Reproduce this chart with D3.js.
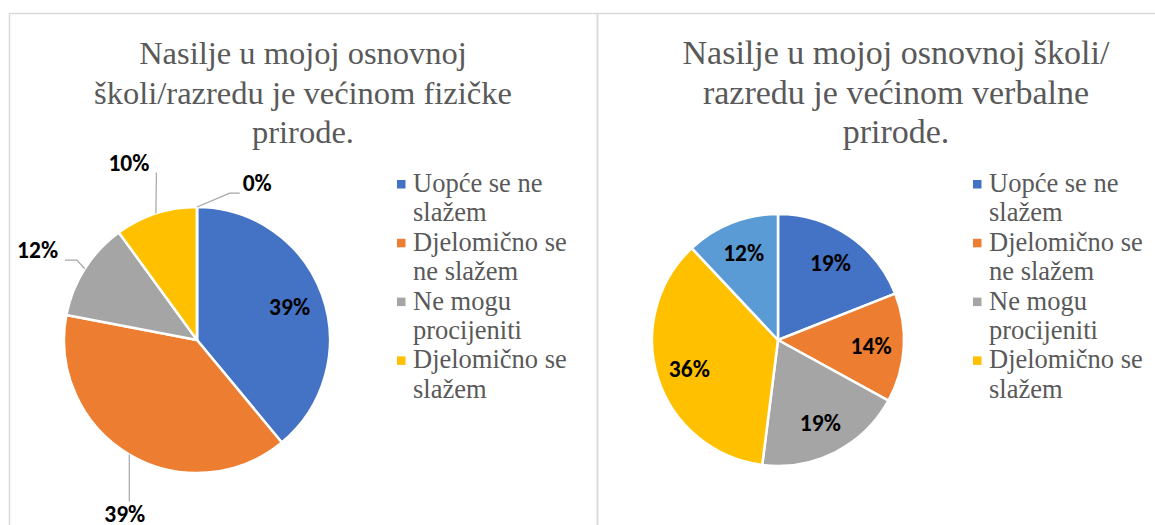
<!DOCTYPE html>
<html>
<head>
<meta charset="utf-8">
<script src="https://cdn.jsdelivr.net/npm/d3@7"></script>
<style>
    html, body { margin: 0; padding: 0; background: #fff; }
    svg { display: block; }
</style>
</head>
<body>
<div id="chart"></div>
<script>
const categories = ['Uopće se ne slažem', 'Djelomično se ne slažem', 'Ne mogu procijeniti', 'Djelomično se slažem', 'Potpuno se slažem'];
const physicalValues = [39, 39, 12, 10, 0];
const verbalValues = [19, 14, 19, 36, 12];
const physicalTitle = ['Nasilje u mojoj osnovnoj', 'školi/razredu je većinom fizičke', 'prirode.'];
const verbalTitle = ['Nasilje u mojoj osnovnoj školi/', 'razredu je većinom verbalne', 'prirode.'];
// legend shows only the first four categories, wrapped as in the original
const legendLines = [['Uopće se ne', 'slažem'], ['Djelomično se', 'ne slažem'], ['Ne mogu', 'procijeniti'], ['Djelomično se', 'slažem']];

const COLOURS = ['#4472C4', '#ED7D31', '#A5A5A5', '#FFC000', '#5B9BD5'];
const SERIF = "'Liberation Serif'";
const LABEL_FONT = "'Carlito'";
const W = 1155, H = 525;

class PieChart {
    constructor(cfg) {
        this.cfg = cfg;
        this.total = d3.sum(cfg.values);
        this.arcs = d3.pie().sort(null).value(d => d)(cfg.values);
        this.arc = d3.arc().innerRadius(0).outerRadius(cfg.r);
        this.fmt = d3.format('.0%');
    }

    polar(angle, radius) {
        return [Math.sin(angle) * radius, -Math.cos(angle) * radius];
    }

    draw(parent) {
        const cfg = this.cfg;
        this.ROOT = parent.append('g');

        // title
        this.ROOT.append('text')
            .attr('x', cfg.titleX)
            .attr('y', cfg.titleY)
            .attr('text-anchor', 'middle')
            .style('font-family', SERIF)
            .style('font-size', cfg.titleSize + 'px')
            .attr('fill', '#595959')
            .selectAll('tspan')
            .data(cfg.title)
            .join('tspan')
            .attr('x', cfg.titleX)
            .attr('dy', (d, i) => i === 0 ? 0 : 39.5)
            .text(d => d);

        const G = this.ROOT.append('g')
            .attr('transform', 'translate(' + cfg.cx + ',' + cfg.cy + ')');

        G.selectAll('path')
            .data(this.arcs)
            .join('path')
            .attr('d', this.arc)
            .attr('fill', (d, i) => COLOURS[i])
            .attr('stroke', '#fff')
            .attr('stroke-width', 2.5)
            .attr('stroke-linejoin', 'round');

        const LABELS = G.append('g');
        this.arcs.forEach((a, i) => {
            const mid = (a.startAngle + a.endAngle) / 2;
            const txt = this.fmt(a.value / this.total);
            let pos;
            if (cfg.labelMode[i] === 'in') {
                pos = this.polar(mid, cfg.r * 0.74);
            } else {
                const nudge = cfg.labelNudge[i] * Math.PI / 180;
                pos = this.polar(mid + nudge, cfg.r + cfg.labelGap[i]);
            }
            const t = LABELS.append('text')
                .attr('x', pos[0])
                .attr('y', pos[1])
                .attr('dy', '0.34em')
                .attr('text-anchor', 'middle')
                .style('font-family', LABEL_FONT)
                .style('font-weight', 'bold')
                .style('font-size', '23.5px')
                .attr('fill', '#000')
                .text(txt);
            if (cfg.labelMode[i] === 'out') {
                const b = t.node().getBBox();
                const box = { x0: b.x, x1: b.x + b.width, y0: b.y + 4, y1: b.y + b.height - 4 };
                const P = this.polar(mid, cfg.r);
                LABELS.insert('polyline', 'text')
                    .attr('points', PieChart.leader(P, box).map(p => p.join(',')).join(' '))
                    .attr('fill', 'none')
                    .attr('stroke', '#A6A6A6')
                    .attr('stroke-width', 1.2);
            }
        });

        // legend
        const LEGEND = this.ROOT.append('g');
        let line = 0;
        legendLines.forEach((lines, i) => {
            const y = cfg.legendY + line * cfg.legendStep;
            LEGEND.append('rect')
                .attr('x', cfg.legendX)
                .attr('y', y - 4)
                .attr('width', 8.5)
                .attr('height', 8.5)
                .attr('fill', COLOURS[i]);
            lines.forEach((l, j) => {
                LEGEND.append('text')
                    .attr('x', cfg.legendX + 16)
                    .attr('y', y + j * cfg.legendStep)
                    .attr('dy', '0.3em')
                    .style('font-family', SERIF)
                    .style('font-size', '26.5px')
                    .attr('fill', '#595959')
                    .text(l);
            });
            line += lines.length;
        });
    }

    static leader(P, box) {
        const clamp = (v, a, b) => Math.max(a, Math.min(b, v));
        if (P[0] >= box.x0 && P[0] <= box.x1) {
            const ey = P[1] > box.y1 ? box.y1 - 8 : box.y0 - 2;
            return [P, [P[0], ey]];
        }
        if (P[0] < box.x0) {
            const E = [box.x0 - 3, clamp(P[1], box.y0, box.y1)];
            return (E[0] - P[0] > 15) ? [P, [E[0] - 10, E[1]], E] : [P, E];
        }
        const E = [box.x1 + 7, clamp(P[1], box.y0, box.y1)];
        return (P[0] - E[0] > 15) ? [P, [E[0] + 12, E[1]], E] : [P, E];
    }
}

const svg = d3.select('#chart').append('svg')
    .attr('width', W)
    .attr('height', H)
    .attr('viewBox', [0, 0, W, H]);

// panel frames
svg.append('rect')
    .attr('x', 9.5).attr('y', 13.5)
    .attr('width', 588).attr('height', H)
    .attr('fill', 'none').attr('stroke', '#D9D9D9').attr('stroke-width', 1.5);
svg.append('rect')
    .attr('x', 597.5).attr('y', 13.5)
    .attr('width', 600).attr('height', H)
    .attr('fill', 'none').attr('stroke', '#D9D9D9').attr('stroke-width', 1.5);

new PieChart({
    values: physicalValues, title: physicalTitle,
    cx: 197, cy: 340, r: 133,
    titleX: 303, titleY: 64, titleSize: 32.5,
    legendX: 397, legendY: 184, legendStep: 29.4,
    labelMode: ['in', 'out', 'out', 'out', 'out'],
    labelNudge: [0, -8, -3, -3, 21],
    labelGap: [0, 55, 50, 57, 35]
}).draw(svg);

new PieChart({
    values: verbalValues, title: verbalTitle,
    cx: 778, cy: 340, r: 126,
    titleX: 896, titleY: 64, titleSize: 34,
    legendX: 973, legendY: 184, legendStep: 29.4,
    labelMode: ['in', 'in', 'in', 'in', 'in'],
    labelNudge: [0, 0, 0, 0, 0],
    labelGap: [0, 0, 0, 0, 0]
}).draw(svg);
</script>
</body>
</html>
